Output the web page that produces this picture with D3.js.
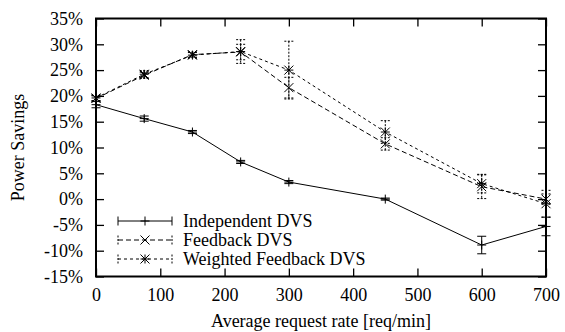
<!DOCTYPE html>
<html>
<head>
<meta charset="utf-8">
<script src="https://cdn.jsdelivr.net/npm/d3@7"></script>
<style>
  body { margin: 0; background: #fff; }
  svg { display: block; }
  text { font-family: "Liberation Serif", "Times New Roman", serif; fill: #000; }
</style>
</head>
<body>
<svg id="chart" width="565" height="332"></svg>
<script>
// request rates [req/min]
const rates = [0, 75, 150, 225, 300, 450, 600, 700];

// power savings [%] and error half-widths
const independent    = [18.3, 15.6, 13.0, 7.2, 3.3, 0.0, -8.9, -5.3];
const independentErr = [0.6, 0.5, 0.3, 0.3, 0.3, 0.2, 1.7, 1.8];
const feedback       = [19.5, 24.0, 28.0, 28.5, 21.6, 10.7, 2.4, 0.0];
const feedbackErr    = [0.5, 0.6, 0.5, 1.5, 2.0, 1.2, 2.3, 1.0];
const weighted       = [19.6, 24.2, 27.9, 28.6, 25.0, 13.0, 3.0, -0.9];
const weightedErr    = [0.5, 0.7, 0.5, 2.3, 5.6, 2.2, 1.8, 2.6];

const xTicks = [0, 100, 200, 300, 400, 500, 600, 700];
const yTicks = [-15, -10, -5, 0, 5, 10, 15, 20, 25, 30, 35];

const seriesNames = ["Independent DVS", "Feedback DVS", "Weighted Feedback DVS"];

const plotLeft = 96, plotRight = 546, plotTop = 18.5, plotBottom = 276.5;

const svg = d3.select("#chart");
const x = d3.scaleLinear().domain([0, 700]).range([plotLeft, plotRight]);
const y = d3.scaleLinear().domain([-15, 35]).range([plotBottom, plotTop]);

function styleAxis(g, hideText) {
    g.select(".domain").remove();
    g.selectAll(".tick line").attr("stroke", "#000").attr("stroke-width", 1.3);
    g.selectAll(".tick text").style("font-size", "18px");
    if (hideText) g.selectAll(".tick text").remove();
}

svg.append("g")
    .attr("transform", `translate(${plotLeft},0)`)
    .call(d3.axisLeft(y).tickValues(yTicks).tickSize(-8).tickPadding(13).tickFormat(d => d + "%"))
    .call(g => styleAxis(g, false));

svg.append("g")
    .attr("transform", `translate(${plotRight},0)`)
    .call(d3.axisRight(y).tickValues(yTicks).tickSize(-8))
    .call(g => styleAxis(g, true));

svg.append("g")
    .attr("transform", `translate(0,${plotBottom})`)
    .call(d3.axisBottom(x).tickValues(xTicks).tickSize(-8).tickPadding(12))
    .call(g => styleAxis(g, false));

svg.append("g")
    .attr("transform", `translate(0,${plotTop})`)
    .call(d3.axisTop(x).tickValues(xTicks).tickSize(-8))
    .call(g => styleAxis(g, true));

svg.append("rect")
    .attr("x", plotLeft).attr("y", plotTop)
    .attr("width", plotRight - plotLeft).attr("height", plotBottom - plotTop)
    .attr("fill", "none").attr("stroke", "#000").attr("stroke-width", 2);

svg.append("text")
    .attr("x", (plotLeft + plotRight) / 2).attr("y", 327)
    .attr("text-anchor", "middle")
    .style("font-size", "18px")
    .text("Average request rate [req/min]");

svg.append("text")
    .attr("transform", `translate(24,${(plotTop + plotBottom) / 2}) rotate(-90)`)
    .attr("text-anchor", "middle")
    .style("font-size", "18px")
    .text("Power Savings");

// marker drawing helpers
function plus(g, cx, cy, r) {
    g.append("path").attr("d", `M${cx - r},${cy}H${cx + r}M${cx},${cy - r}V${cy + r}`)
        .attr("stroke", "#000").attr("stroke-width", 1).attr("fill", "none");
}
function cross(g, cx, cy, r) {
    g.append("path").attr("d", `M${cx - r},${cy - r}L${cx + r},${cy + r}M${cx - r},${cy + r}L${cx + r},${cy - r}`)
        .attr("stroke", "#000").attr("stroke-width", 1).attr("fill", "none");
}
function star(g, cx, cy, r) {
    plus(g, cx, cy, r);
    cross(g, cx, cy, r);
}

const series = [
    { name: seriesNames[0], vals: independent, err: independentErr, dash: null, marker: plus },
    { name: seriesNames[1], vals: feedback, err: feedbackErr, dash: "5,3", marker: cross },
    { name: seriesNames[2], vals: weighted, err: weightedErr, dash: "3,3", marker: star }
];

const line = d3.line().x(d => x(d[0])).y(d => y(d[1]));
const cap = 4.5;

series.forEach(s => {
    const g = svg.append("g");
    const pts = rates.map((r, i) => [r, s.vals[i], s.err[i]]);

    g.append("path")
        .attr("d", line(pts))
        .attr("fill", "none")
        .attr("stroke", "#000")
        .attr("stroke-width", 1)
        .attr("stroke-dasharray", s.dash);

    pts.forEach(p => {
        const px = x(p[0]);
        const y1 = y(p[1] + p[2]), y2 = y(p[1] - p[2]);
        g.append("path")
            .attr("d", `M${px},${y1}V${y2}M${px - cap},${y1}H${px + cap}M${px - cap},${y2}H${px + cap}`)
            .attr("fill", "none").attr("stroke", "#000").attr("stroke-width", 1)
            .attr("stroke-dasharray", s.dash ? "2,1.5" : null);
        s.marker(g, px, y(p[1]), 4.5);
    });
});

// legend
const legX1 = 118, legX2 = 172, legY0 = 221, legStep = 19;
series.forEach((s, i) => {
    const ly = legY0 + i * legStep;
    const g = svg.append("g");
    g.append("path")
        .attr("d", `M${legX1},${ly}H${legX2}`)
        .attr("stroke", "#000").attr("stroke-width", 1)
        .attr("stroke-dasharray", s.dash);
    g.append("path")
        .attr("d", `M${legX1},${ly - 4.5}V${ly + 4.5}M${legX2},${ly - 4.5}V${ly + 4.5}`)
        .attr("stroke", "#000").attr("stroke-width", 1)
        .attr("stroke-dasharray", s.dash ? "2,1.5" : null);
    s.marker(g, (legX1 + legX2) / 2, ly, 4.5);
    g.append("text")
        .attr("x", 183).attr("y", ly)
        .attr("dy", "0.35em")
        .style("font-size", "18px")
        .text(s.name);
});
</script>
</body>
</html>
